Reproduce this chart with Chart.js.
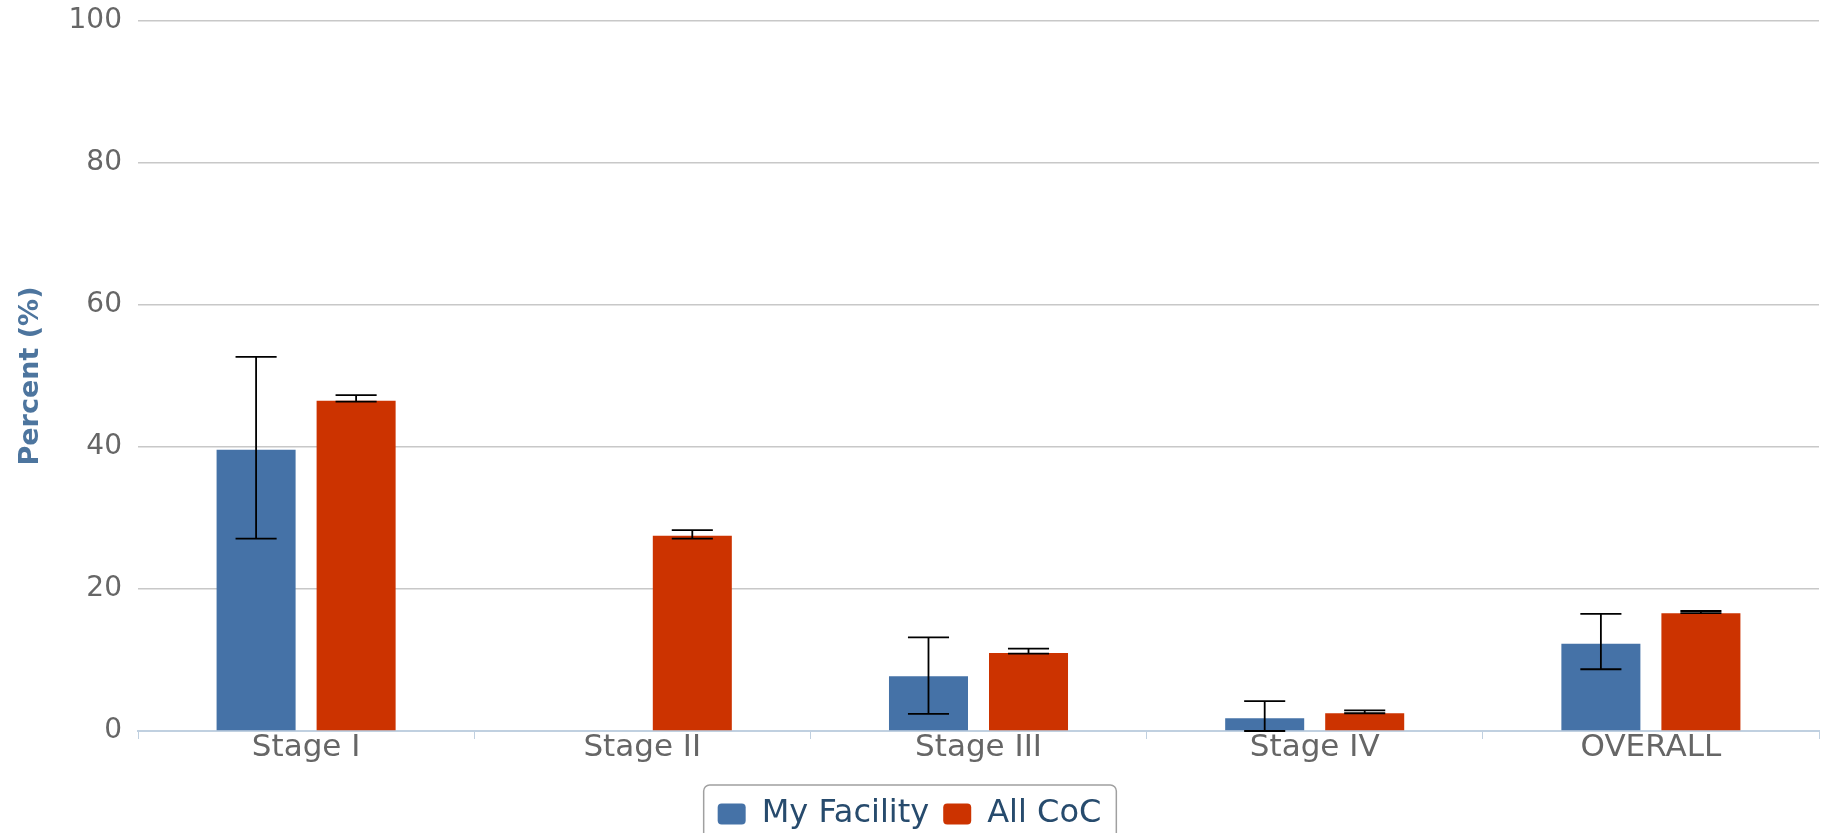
<!DOCTYPE html>
<html lang="en">
<head>
    <meta charset="UTF-8">
    <title>Percent by Stage</title>
    <script src="https://cdn.jsdelivr.net/npm/chart.js"></script>
    <style>
        body {
            margin: 0;
            background: #ffffff;
            overflow: hidden;
        }
        .chart-box {
            width: 1828px;
            height: 840px;
        }
    </style>
</head>
<body>
    <div class="chart-box">
        <canvas id="stageChart"></canvas>
    </div>

    <script>
        let categories = ["Stage I", "Stage II", "Stage III", "Stage IV", "OVERALL"];

        let facilityValues = [39.6, null, 7.7, 1.8, 12.3];
        let facilityLow = [27.1, null, 2.4, 0, 8.7];
        let facilityHigh = [52.7, null, 13.2, 4.2, 16.5];

        let cocValues = [46.5, 27.5, 11.0, 2.5, 16.6];
        let cocLow = [46.4, 27.1, 10.9, 2.5, 16.6];
        let cocHigh = [47.3, 28.3, 11.6, 2.9, 16.9];

        let yTicks = [0, 20, 40, 60, 80, 100];

        let fontName = "'DejaVu Sans', Verdana, sans-serif";

        // draws the confidence whiskers on top of each bar
        let errorBars = {
            id: "errorBars",
            afterDatasetsDraw(chart) {
                let ctx = chart.ctx;
                let yScale = chart.scales.y;
                ctx.save();
                ctx.strokeStyle = "#000000";
                ctx.lineWidth = 1.8;
                chart.data.datasets.forEach((ds, i) => {
                    let meta = chart.getDatasetMeta(i);
                    meta.data.forEach((bar, j) => {
                        if (ds.low[j] == null || ds.high[j] == null) return;
                        let x = bar.x;
                        let half = bar.width * 0.26;
                        let yLo = yScale.getPixelForValue(ds.low[j]);
                        let yHi = yScale.getPixelForValue(ds.high[j]);
                        ctx.beginPath();
                        ctx.moveTo(x, yLo);
                        ctx.lineTo(x, yHi);
                        ctx.moveTo(x - half, yHi);
                        ctx.lineTo(x + half, yHi);
                        ctx.moveTo(x - half, yLo);
                        ctx.lineTo(x + half, yLo);
                        ctx.stroke();
                    });
                });
                ctx.restore();
            }
        };

        // rounded frame round the legend, like the original
        let legendFrame = {
            id: "legendFrame",
            afterDraw(chart) {
                let boxes = chart.legend.legendHitBoxes;
                if (!boxes || !boxes.length) return;
                let left = boxes[0].left - 14;
                let last = boxes[boxes.length - 1];
                let right = last.left + last.width + 15;
                let top = boxes[0].top - 13;
                let bottom = boxes[0].top + boxes[0].height + 13;
                let ctx = chart.ctx;
                ctx.save();
                ctx.strokeStyle = "#a0a0a0";
                ctx.lineWidth = 1.5;
                ctx.beginPath();
                ctx.roundRect(left, top, right - left, bottom - top, 6);
                ctx.stroke();
                ctx.restore();
            }
        };

        let ctx = document.getElementById("stageChart").getContext("2d");
        let stageChart = new Chart(ctx, {
            type: "bar",
            data: {
                labels: categories,
                datasets: [
                    {
                        label: "My Facility",
                        data: facilityValues,
                        low: facilityLow,
                        high: facilityHigh,
                        backgroundColor: "#4572A7",
                        categoryPercentage: 0.595,
                        barPercentage: 0.79
                    },
                    {
                        label: "All CoC",
                        data: cocValues,
                        low: cocLow,
                        high: cocHigh,
                        backgroundColor: "#CC3300",
                        categoryPercentage: 0.595,
                        barPercentage: 0.79
                    }
                ]
            },
            options: {
                responsive: true,
                maintainAspectRatio: false,
                animation: false,
                layout: {
                    padding: { top: 21, right: 9, left: 0, bottom: 0 }
                },
                plugins: {
                    tooltip: { enabled: false },
                    legend: {
                        position: "bottom",
                        labels: {
                            boxWidth: 28,
                            boxHeight: 21,
                            padding: 14,
                            useBorderRadius: true,
                            borderRadius: 4,
                            color: "#274b6d",
                            font: { family: fontName, size: 32 }
                        }
                    }
                },
                scales: {
                    x: {
                        grid: {
                            offset: true,
                            drawOnChartArea: false,
                            drawTicks: true,
                            tickLength: 8,
                            color: "#C0D0E0"
                        },
                        border: { color: "#C0D0E0", width: 2 },
                        ticks: {
                            color: "#666666",
                            padding: -10,
                            font: { family: fontName, size: 31 }
                        },
                        afterFit(scale) {
                            scale.height = 53;
                        }
                    },
                    y: {
                        min: 0,
                        max: 100,
                        afterBuildTicks(scale) {
                            scale.ticks = yTicks.map(v => ({ value: v }));
                        },
                        grid: {
                            drawTicks: false,
                            color: c => c.tick && c.tick.value === 0 ? "rgba(0,0,0,0)" : "#C8C8C8",
                            lineWidth: 1.5
                        },
                        border: { display: false },
                        ticks: {
                            color: "#666666",
                            padding: 16,
                            font: { family: fontName, size: 28 }
                        },
                        title: {
                            display: true,
                            text: "Percent (%)",
                            color: "#4d759e",
                            padding: { top: 15, bottom: 0 },
                            font: { family: fontName, size: 27, weight: "bold" }
                        },
                        afterFit(scale) {
                            scale.width = 138;
                            // let the top label hang into the margin
                            scale.paddingTop = 0;
                            scale.paddingBottom = 0;
                        }
                    }
                }
            },
            plugins: [errorBars, legendFrame]
        });
    </script>
</body>
</html>
